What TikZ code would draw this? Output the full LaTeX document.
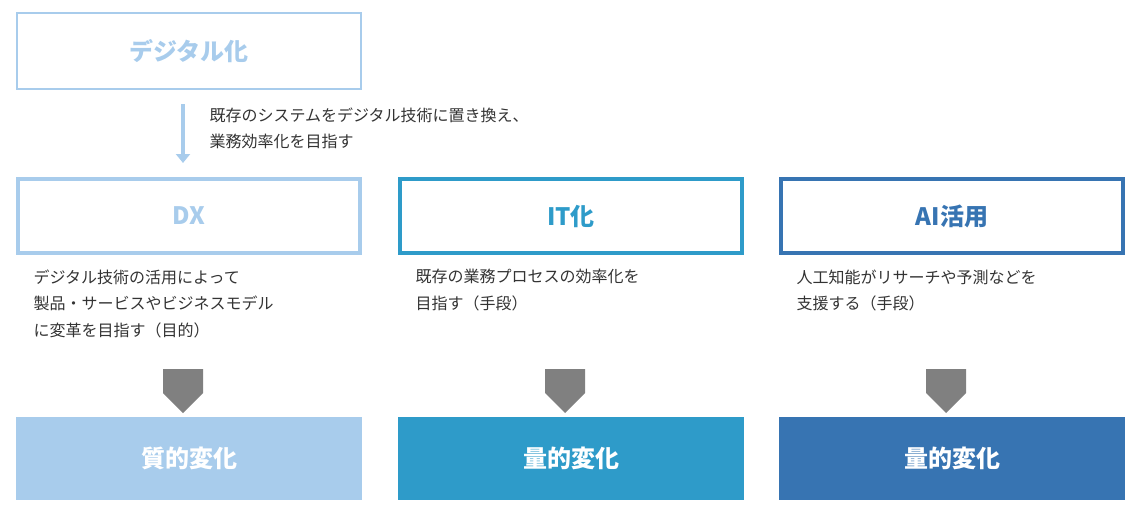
\documentclass[tikz,border=0pt]{standalone}
\usepackage{fontspec}
\setmainfont{Noto Sans CJK JP}
\usetikzlibrary{shapes.arrows,arrows.meta}
\definecolor{lb}{HTML}{A8CCEC}
\definecolor{mb}{HTML}{2E9BC9}
\definecolor{db}{HTML}{3774B2}
\definecolor{gr}{HTML}{808080}
\definecolor{tx}{HTML}{333333}
\begin{document}
\begin{tikzpicture}[x=1pt,y=-1pt,
  box/.style={draw,line width=4.5pt,minimum width=342pt,minimum height=74pt,font=\fontsize{24}{28}\selectfont\bfseries},
  res/.style={minimum width=346pt,minimum height=83pt,text=white,font=\fontsize{24}{28}\selectfont\bfseries},
  desc/.style={anchor=north west,align=left,text=tx,font=\fontsize{16}{26.5}\selectfont},
  garr/.style={single arrow,fill=gr,draw=none,shape border rotate=270,minimum width=40pt,single arrow head extend=0pt,single arrow tip angle=90,minimum height=44pt,inner sep=6pt}]
\useasboundingbox (0,0) rectangle (1140,511);
\node[draw=lb,line width=2pt,minimum width=344pt,minimum height=76pt,text=lb,font=\fontsize{24}{28}\selectfont\bfseries] (dg) at (189,51) {デジタル化};
\coordinate (a1) at (183,104);
\coordinate (a2) at (183,163);
\draw[lb,line width=4pt,-{Triangle[length=9pt,width=14pt]}] (a1) -- (a2);
\node[desc] (dgt) at (206,104) {既存のシステムをデジタル技術に置き換え、\\業務効率化を目指す};
\node[box,draw=lb,text=lb] (dx) at (189,216) {DX};
\node[box,draw=mb,text=mb] (it) at (571,216) {IT化};
\node[box,draw=db,text=db] (ai) at (952,216) {AI活用};
\node[desc] (t1) at (30,266) {デジタル技術の活用によって\\製品・サービスやビジネスモデル\\に変革を目指す（目的）};
\node[desc] (t2) at (412,266) {既存の業務プロセスの効率化を\\目指す（手段）};
\node[desc] (t3) at (793,266) {人工知能がリサーチや予測などを\\支援する（手段）};
\node[garr] (g1) at (183,381) {};
\node[garr] (g2) at (565,381) {};
\node[garr] (g3) at (946,381) {};
\node[res,fill=lb] (r1) at (189,458) {質的変化};
\node[res,fill=mb] (r2) at (571,458) {量的変化};
\node[res,fill=db] (r3) at (952,458) {量的変化};
\end{tikzpicture}
\end{document}
